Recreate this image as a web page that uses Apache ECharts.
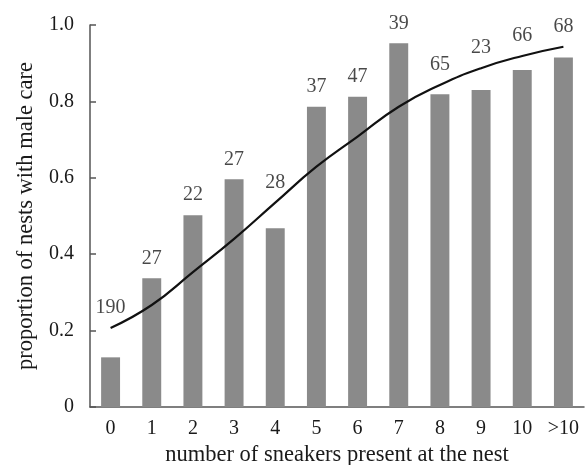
<!DOCTYPE html>
<html>
<head>
<meta charset="utf-8">
<script src="https://cdn.jsdelivr.net/npm/echarts@6/dist/echarts.min.js"></script>
<style>
html,body{margin:0;padding:0;background:#fff;}
#chart{width:587px;height:465px;}
</style>
</head>
<body>
<div id="chart"></div>
<script>
const categories = ['0','1','2','3','4','5','6','7','8','9','10','>10'];
const proportions = [0.13, 0.337, 0.502, 0.596, 0.468, 0.786, 0.812, 0.952, 0.819, 0.830, 0.882, 0.915];
const fitted = [0.207, 0.267, 0.353, 0.44, 0.535, 0.629, 0.708, 0.786, 0.843, 0.887, 0.919, 0.943];
const sampleSizes = [190, 27, 22, 27, 28, 37, 47, 39, 65, 23, 66, 68];
const yTicks = [0, 0.2, 0.4, 0.6, 0.8, 1.0];

const labelAnchor = proportions.map((v, i) => Math.max(v, fitted[i]));
const font = 'Liberation Serif';
const textColor = '#1a1a1a';

const chart = echarts.init(document.getElementById('chart'));
chart.setOption({
  animation: false,
  grid: { left: 90, top: 25, right: 3, bottom: 58, containLabel: false, outerBoundsMode: 'none' },
  xAxis: {
    type: 'category',
    data: categories,
    boundaryGap: true,
    axisLine: { lineStyle: { color: '#555', width: 1.5 } },
    axisTick: { show: false },
    axisLabel: { color: textColor, fontFamily: font, fontSize: 20, margin: 12 },
    name: 'number of sneakers present at the nest',
    nameLocation: 'middle',
    nameGap: 35,
    nameTextStyle: { color: textColor, fontFamily: font, fontSize: 22.5 }
  },
  yAxis: {
    type: 'value',
    min: yTicks[0],
    max: yTicks[yTicks.length - 1],
    interval: 0.2,
    splitLine: { show: false },
    axisLine: { show: true, lineStyle: { color: '#555', width: 1.5 } },
    axisTick: { show: true, inside: true, length: 6, lineStyle: { color: '#555', width: 1.5 } },
    axisLabel: {
      color: textColor, fontFamily: font, fontSize: 20, margin: 16,
      formatter: v => v === 0 ? '0' : v.toFixed(1)
    },
    name: 'proportion of nests with male care',
    nameLocation: 'middle',
    nameGap: 52,
    nameRotate: 90,
    nameTextStyle: { color: textColor, fontFamily: font, fontSize: 22.5 }
  },
  series: [
    {
      type: 'bar',
      data: proportions,
      barWidth: '46%',
      itemStyle: { color: '#8a8a8a' }
    },
    {
      type: 'line',
      data: fitted,
      smooth: true,
      symbol: 'none',
      lineStyle: { color: '#111', width: 2.2 },
      z: 3
    },
    {
      type: 'scatter',
      data: labelAnchor,
      symbolSize: 0,
      silent: true,
      label: {
        show: true,
        position: 'top',
        distance: 10,
        color: textColor,
        fontFamily: font,
        fontSize: 20,
        formatter: p => String(sampleSizes[p.dataIndex])
      },
      z: 4
    }
  ]
});
</script>
</body>
</html>
